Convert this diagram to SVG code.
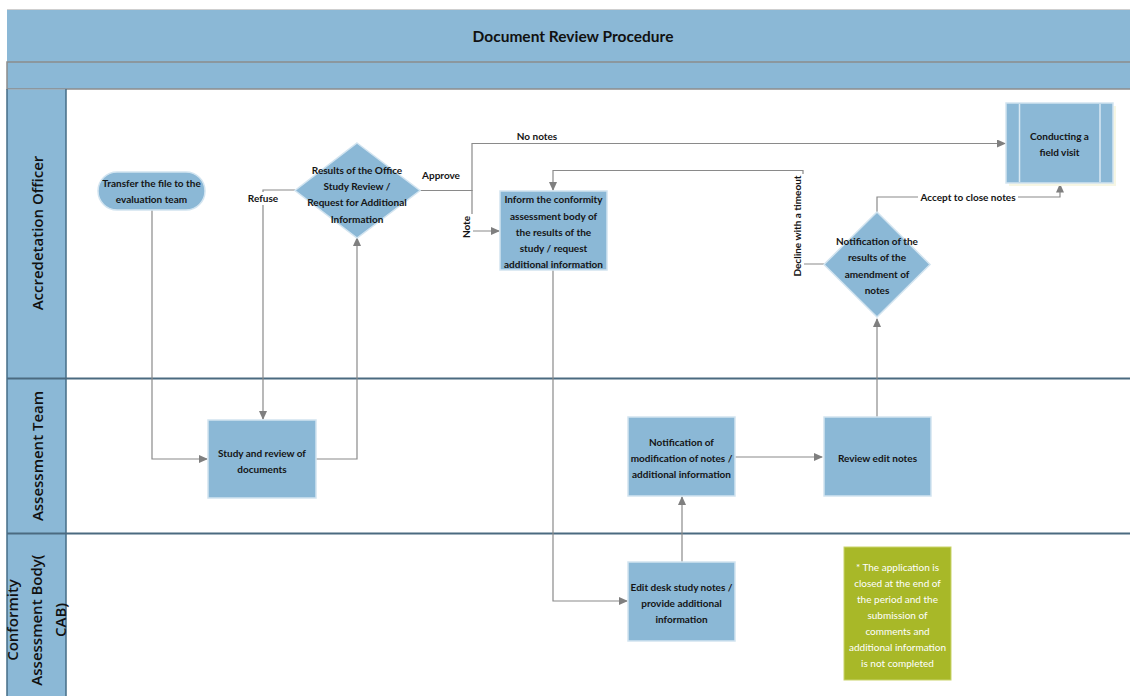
<svg xmlns="http://www.w3.org/2000/svg" width="1130" height="696" viewBox="0 0 1130 696">
<style>
.band{fill:#8bb8d6}
.node{fill:#8bb8d6;stroke:#d2e4f0;stroke-width:1.5}
.t{font-family:Lato,"Liberation Sans",sans-serif;font-size:10px;font-weight:bold;fill:#141414;text-anchor:middle}
.lbl{font-family:Lato,"Liberation Sans",sans-serif;font-size:10px;font-weight:bold;fill:#141414;text-anchor:middle}
.lane{font-family:"Open Sans","Liberation Sans",sans-serif;font-size:15px;font-weight:600;fill:#111;text-anchor:middle}
.note{font-family:Lato,"Liberation Sans",sans-serif;font-size:10px;fill:#ffffff;text-anchor:middle}
.c{fill:none;stroke:#8a8a8a;stroke-width:1.2}
.bg{fill:#ffffff}
</style>
<defs>
<marker id="ah" markerWidth="9" markerHeight="8" refX="8" refY="4" orient="auto" markerUnits="userSpaceOnUse">
<path d="M0,0 L9,4 L0,8 Z" fill="#7f7f7f"/>
</marker>
</defs>
<rect width="1130" height="696" fill="#ffffff"/>
<g id="pool">
<rect class="band" x="7" y="9" width="1123" height="53"/>
<line x1="7" y1="9.5" x2="1130" y2="9.5" stroke="#cfcfcf" stroke-width="1"/>
<rect class="band" x="7" y="62" width="1125" height="27" stroke="#8c8c8c" stroke-width="1.5"/>
<text x="573" y="42" font-family="Lato,'Liberation Sans',sans-serif" font-size="15.5" font-weight="bold" fill="#111" text-anchor="middle">Document Review Procedure</text>
<rect class="band" x="7" y="89.5" width="59" height="607"/>
<line x1="7" y1="89" x2="7" y2="696" stroke="#456c86" stroke-width="1.5"/>
<line x1="66" y1="89" x2="66" y2="696" stroke="#456c86" stroke-width="1.5"/>
<line x1="7" y1="378.5" x2="1130" y2="378.5" stroke="#4b6a80" stroke-width="2"/>
<line x1="7" y1="533.5" x2="1130" y2="533.5" stroke="#4b6a80" stroke-width="2"/>
<text class="lane" transform="translate(43,233) rotate(-90)">Accredetation Officer</text>
<text class="lane" transform="translate(43,456) rotate(-90)">Assessment Team</text>
<text class="lane" transform="translate(18,620) rotate(-90)">Conformity</text>
<text class="lane" transform="translate(42,620) rotate(-90)">Assessment Body(</text>
<text class="lane" transform="translate(66,620) rotate(-90)">CAB)</text>
</g>
<g id="connectors">
<path class="c" d="M152,210 V459 H207" marker-end="url(#ah)"/>
<path class="c" d="M316,459 H357 V238" marker-end="url(#ah)"/>
<path class="c" d="M295,190 H263 V419" marker-end="url(#ah)"/>
<path class="c" d="M420,190.5 H472 V143.5 H1005" marker-end="url(#ah)"/>
<path class="c" d="M472,190 V231 H499" marker-end="url(#ah)"/>
<path class="c" d="M553,270 V601 H627" marker-end="url(#ah)"/>
<path class="c" d="M682,562 V497" marker-end="url(#ah)"/>
<path class="c" d="M735,457 H822" marker-end="url(#ah)"/>
<path class="c" d="M877,417 V319" marker-end="url(#ah)"/>
<path class="c" d="M824,264 H803 V170.5 H553 V190" marker-end="url(#ah)"/>
<path class="c" d="M877,212 V197 H1060 V184.5" marker-end="url(#ah)"/>
<rect class="bg" x="245" y="192" width="36" height="13"/>
<text class="lbl" x="263" y="202">Refuse</text>
<text class="lbl" x="441" y="179">Approve</text>
<rect class="bg" x="512" y="130" width="50" height="13"/>
<text class="lbl" x="537" y="140">No notes</text>
<rect class="bg" x="460" y="214" width="13" height="26"/>
<text class="lbl" transform="translate(469.5,227) rotate(-90)">Note</text>
<rect class="bg" x="790" y="174" width="14" height="105"/>
<text class="lbl" transform="translate(800.5,226) rotate(-90)">Decline with a timeout</text>
<rect class="bg" x="918" y="191" width="100" height="12"/>
<text class="lbl" x="968" y="200.5">Accept to close notes</text>
</g>
<g id="n1">
<rect class="node" x="98" y="172" width="107" height="38" rx="19"/>
<text class="t" x="151.5" y="186.5">Transfer the file to the</text>
<text class="t" x="151.5" y="202.5">evaluation team</text>
</g>
<g id="n2">
<polygon class="node" points="357,143 420,190.5 357,238 295,190.5"/>
<text class="t" x="357" y="174">Results of the Office</text>
<text class="t" x="357" y="190">Study Review /</text>
<text class="t" x="357" y="206">Request for Additional</text>
<text class="t" x="357" y="223">Information</text>
</g>
<g id="n3">
<rect class="node" x="208" y="420" width="108" height="78"/>
<text class="t" x="262" y="456.5">Study and review of</text>
<text class="t" x="262" y="472.5">documents</text>
</g>
<g id="n4">
<rect class="node" x="500" y="191" width="107" height="79"/>
<text class="t" x="553.5" y="202.5">Inform the conformity</text>
<text class="t" x="553.5" y="219.5">assessment body of</text>
<text class="t" x="553.5" y="235.5">the results of the</text>
<text class="t" x="553.5" y="251.5">study / request</text>
<text class="t" x="553.5" y="267.5">additional information</text>
</g>
<g id="n5">
<polygon class="node" points="877,212 930,264.5 877,317 824,264.5"/>
<text class="t" x="877" y="244.5">Notification of the</text>
<text class="t" x="877" y="260.5">results of the</text>
<text class="t" x="877" y="277.5">amendment of</text>
<text class="t" x="877" y="293.5">notes</text>
</g>
<g id="n6">
<rect x="1009" y="106" width="107" height="80" fill="#f6f6e4"/>
<rect class="node" x="1006" y="103" width="107" height="80"/>
<line x1="1019.5" y1="104" x2="1019.5" y2="182" stroke="#d8e8f3" stroke-width="1.5"/>
<line x1="1100" y1="104" x2="1100" y2="182" stroke="#d8e8f3" stroke-width="1.5"/>
<text class="t" x="1059.5" y="139.5">Conducting a</text>
<text class="t" x="1059.5" y="155.5">field visit</text>
</g>
<g id="n7">
<rect class="node" x="628" y="417" width="107" height="79"/>
<text class="t" x="681.5" y="445.5">Notification of</text>
<text class="t" x="681.5" y="461.5">modification of notes /</text>
<text class="t" x="681.5" y="477.5">additional information</text>
</g>
<g id="n8">
<rect class="node" x="824" y="417" width="107" height="79"/>
<text class="t" x="877.5" y="461.5">Review edit notes</text>
</g>
<g id="n9">
<rect class="node" x="628" y="562" width="107" height="79"/>
<text class="t" x="681.5" y="590.5">Edit desk study notes /</text>
<text class="t" x="681.5" y="606.5">provide additional</text>
<text class="t" x="681.5" y="622.5">information</text>
</g>
<g id="n10">
<rect x="844" y="547" width="107" height="133" fill="#a8b828" stroke="#c9d46a" stroke-width="1"/>
<text class="note" x="897.5" y="570.5">* The application is</text>
<text class="note" x="897.5" y="586.5">closed at the end of</text>
<text class="note" x="897.5" y="602.5">the period and the</text>
<text class="note" x="897.5" y="618.5">submission of</text>
<text class="note" x="897.5" y="634.5">comments and</text>
<text class="note" x="897.5" y="650.5">additional information</text>
<text class="note" x="897.5" y="666.5">is not completed</text>
</g>
</svg>
